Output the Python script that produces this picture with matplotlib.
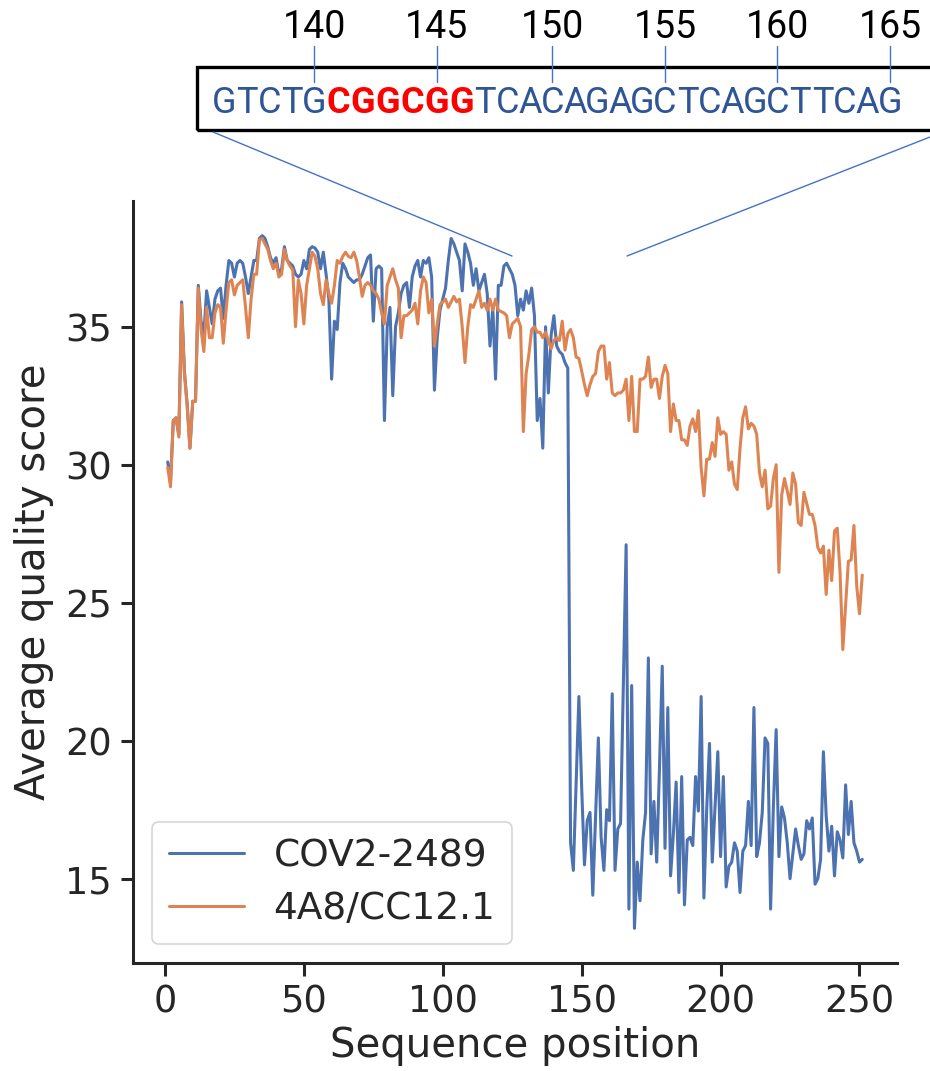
import numpy as np
import matplotlib
matplotlib.use("Agg")
import matplotlib.pyplot as plt
import seaborn as sns
from matplotlib.lines import Line2D
from matplotlib.patches import Rectangle

# per-position average base quality for the two amplicons
positions = np.arange(1, 252)

cov2_2489 = [
    30.1, 29.4, 31.6, 31.7, 31.1, 35.9, 33.4, 32.2, 30.6, 32.3,
    32.3, 36.5, 35.2, 34.7, 36.3, 35.7, 35.1, 36.0, 36.3, 36.4,
    35.3, 36.5, 37.4, 37.3, 36.8, 37.3, 37.4, 37.3, 36.8, 36.2,
    36.8, 37.4, 37.4, 38.2, 38.3, 38.2, 37.9, 37.5, 37.3, 37.5,
    36.9, 37.1, 37.9, 37.4, 37.3, 37.2, 36.9, 36.8, 36.9, 37.4,
    37.1, 37.8, 37.9, 37.85, 37.7, 37.1, 37.7, 36.9, 36.0, 33.1,
    35.2, 34.9, 36.6, 37.3, 37.1, 36.8, 36.7, 36.6, 36.7, 36.7,
    36.9, 37.2, 37.5, 37.6, 35.2, 37.1, 37.2, 37.1, 31.6, 35.0,
    35.7, 32.5, 35.0, 35.5, 36.2, 36.5, 36.6, 35.7, 36.8, 37.2,
    37.4, 36.8, 37.4, 37.3, 37.5, 36.8, 32.7, 34.6, 35.6, 36.0,
    36.4, 37.4, 38.2, 38.0, 37.7, 37.4, 36.3, 38.0, 37.7, 37.3,
    36.5, 37.1, 36.3, 36.6, 36.9, 36.2, 34.3, 35.7, 33.1, 36.5,
    36.5, 37.2, 37.3, 37.1, 36.9, 36.5, 35.4, 36.0, 35.6, 36.3,
    35.85, 36.4, 35.4, 31.6, 32.4, 30.6, 35.0, 32.6, 34.7, 35.4,
    34.3, 34.1, 34.0, 33.7, 33.5, 16.3, 15.3, 18.5, 21.6, 18.3,
    15.5, 17.1, 17.4, 14.4, 17.2, 20.1, 16.5, 15.3, 17.5, 17.1,
    21.7, 15.3, 16.8, 17.0, 22.0, 27.1, 13.9, 22.0, 13.2, 15.6,
    14.2, 16.4, 17.4, 23.0, 15.9, 17.8, 15.6, 19.0, 22.7, 16.1,
    21.2, 15.1, 16.6, 18.5, 14.5, 18.7, 14.05, 16.4, 16.5, 16.2,
    18.7, 17.45, 21.6, 14.3, 17.5, 19.9, 15.6, 17.6, 19.6, 15.8,
    18.7, 14.7, 15.45, 15.6, 16.3, 16.0, 14.5, 16.0, 16.2, 17.8,
    16.2, 21.2, 15.8, 16.3, 17.4, 20.1, 19.9, 13.9, 17.6, 20.4,
    15.8, 17.6, 17.2, 16.3, 15.0, 15.9, 16.8, 16.2, 15.7, 15.9,
    17.1, 16.8, 17.2, 14.8, 15.0, 15.7, 19.6, 17.3, 16.0, 16.9,
    15.1, 16.7, 16.4, 15.75, 18.4, 16.6, 17.8, 16.3, 16.0, 15.6, 15.7,
]

cc12_1 = [
    29.9, 29.2, 31.6, 31.7, 31.0, 35.8, 33.3, 32.1, 30.6, 32.3,
    32.3, 36.4, 34.9, 34.1, 35.7, 34.6, 34.6, 35.5, 35.8, 35.7,
    34.4, 35.6, 36.6, 36.7, 36.15, 36.5, 36.6, 36.7, 35.7, 34.6,
    36.0, 36.9, 36.9, 38.15, 38.2, 38.0, 37.8, 37.4, 37.1, 37.3,
    36.8, 36.9, 37.8, 37.4, 37.2, 37.06, 35.0, 36.7, 36.2, 35.1,
    36.5, 37.1, 37.7, 37.55, 37.1, 36.2, 35.8, 36.7, 36.2, 35.85,
    36.5, 37.4, 37.3, 37.55, 37.7, 37.55, 37.5, 37.7, 37.4, 36.8,
    36.1, 36.5, 36.6, 36.5, 36.3, 36.2, 36.0, 35.5, 35.1, 36.5,
    36.8, 37.1, 36.7, 36.4, 34.6, 35.4, 35.4, 35.5, 35.6, 35.85,
    35.1, 36.3, 36.8, 36.6, 35.5, 36.0, 34.3, 35.1, 35.8, 35.9,
    36.0, 35.7, 35.9, 36.1, 35.9, 36.0, 35.0, 33.7, 35.0, 35.8,
    35.7, 36.0, 36.3, 35.7, 35.85, 35.6, 36.0, 35.6, 36.0, 35.6,
    35.55, 35.5, 35.4, 34.6, 35.1, 35.2, 35.3, 35.0, 31.2, 33.3,
    34.0, 34.9, 35.0, 34.8, 34.8, 34.6, 34.8, 34.5, 34.2, 34.5,
    34.6, 34.5, 35.2, 34.15, 34.75, 34.9, 34.6, 33.9, 33.85, 33.4,
    32.9, 32.5, 32.9, 33.2, 33.3, 34.1, 34.3, 34.3, 33.1, 33.7,
    32.6, 32.5, 32.6, 32.6, 32.7, 33.1, 31.6, 33.2, 31.2, 31.2,
    33.1, 33.1, 33.2, 33.9, 32.8, 33.1, 33.1, 32.4, 33.2, 33.6,
    33.3, 31.2, 32.2, 31.6, 31.6, 30.9, 30.9, 30.7, 31.4, 31.66,
    31.2, 31.96, 29.9, 28.87, 30.2, 30.2, 30.8, 30.3, 31.7, 31.1,
    31.2, 31.1, 29.8, 30.1, 29.3, 29.1, 30.6, 31.7, 32.1, 31.3,
    31.5, 31.4, 31.1, 29.7, 29.2, 29.8, 28.4, 28.5, 29.5, 30.0,
    26.1, 28.9, 29.5, 29.05, 28.56, 29.7, 29.3, 27.9, 27.8, 29.0,
    28.6, 28.2, 28.2, 27.8, 27.0, 26.8, 27.05, 25.3, 26.9, 25.8,
    27.6, 27.7, 26.1, 23.3, 24.9, 26.5, 26.55, 27.8, 25.6, 24.6, 26.0,
]

series_labels = ["COV2-2489", "4A8/CC12.1"]

# read sequence shown above the plot, first base is position 136
sequence = "GTCTGCGGCGGTCACAGAGCTCAGCTTCAG"
seq_start = 136
motif = (5, 11)  # CGGCGG
seq_ticks = [140, 145, 150, 155, 160, 165]

W, H = 930, 1071


def fx(x):
    return x / W


def fy(y):
    return 1 - y / H


sns.set_theme(style="ticks")
plt.rcParams["font.family"] = ["DejaVu Sans"]

fig = plt.figure(figsize=(W / 100, H / 100), dpi=100)
ax = fig.add_axes([fx(133), fy(963), fx(897) - fx(133), fy(201) - fy(963)])

ax.plot(positions, cov2_2489, color="#4C72B0", lw=2.2, label=series_labels[0])
ax.plot(positions, cc12_1, color="#DD8452", lw=2.2, label=series_labels[1])

sns.despine(ax=ax)
for side in ["left", "bottom"]:
    ax.spines[side].set_linewidth(2.2)
    ax.spines[side].set_color("#262626")
ax.set_xticks([0, 50, 100, 150, 200, 250])
ax.set_yticks([15, 20, 25, 30, 35])
ax.tick_params(labelsize=26.5, length=9, width=2.2, color="#262626",
               labelcolor="#262626", pad=6)
ax.set_xlabel("Sequence position", fontsize=29, color="#262626", labelpad=4)
ax.set_ylabel("Average quality score", fontsize=29, color="#262626", labelpad=8)

leg = ax.legend(loc="lower left", fontsize=27, handlelength=2.0,
                borderpad=0.45, labelspacing=0.45, handletextpad=0.8)
leg.get_frame().set_edgecolor("#cccccc")
leg.get_frame().set_linewidth(1.2)

# sequence inset above the plot
box = Rectangle((fx(197), fy(130)), fx(945) - fx(197), fy(67) - fy(130),
                transform=fig.transFigure, fill=False, edgecolor="black",
                lw=2.4, clip_on=False)
fig.add_artist(box)

seq_font = ["Liberation Sans Narrow", "Roboto"]
# bold motif letters take a little more room than the plain ones
pitches = [24.7 if motif[0] <= i < motif[1] else 22.5 for i in range(len(sequence))]
lefts = 213 + np.concatenate([[0], np.cumsum(pitches)[:-1]])
centers = lefts + np.array(pitches) / 2

for i, base in enumerate(sequence):
    in_motif = motif[0] <= i < motif[1]
    fig.text(fx(centers[i]), fy(113), base, ha="center",
             va="baseline", fontsize=26, family=seq_font,
             color="#FF0000" if in_motif else "#2F5597",
             fontweight="bold" if in_motif else "normal")

for pos in seq_ticks:
    xc = centers[pos - seq_start]
    fig.text(fx(xc), fy(38), str(pos), ha="center", va="baseline",
             fontsize=27, family=seq_font, color="black")
    fig.add_artist(Line2D([fx(xc), fx(xc)], [fy(46), fy(82)],
                          transform=fig.transFigure, color="#4472C4", lw=1))

# zoom lines from the inset down to the plot
fig.add_artist(Line2D([fx(213), fx(512)], [fy(132), fy(256)],
                      transform=fig.transFigure, color="#4472C4", lw=1))
fig.add_artist(Line2D([fx(930), fx(627)], [fy(137), fy(256)],
                      transform=fig.transFigure, color="#4472C4", lw=1))

fig.savefig("out.png", dpi=100)
